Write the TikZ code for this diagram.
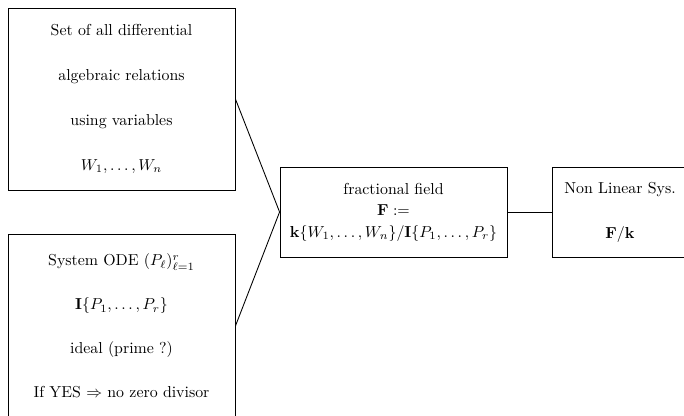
\documentclass[tikz,border=0pt]{standalone}
\usepackage{amsmath}
\begin{document}
\begin{tikzpicture}[x=0.63pt,y=-0.63pt,
  box/.style={draw,line width=0.55pt,align=center,inner sep=0pt},
  conn/.style={line width=0.55pt}]
\useasboundingbox (0,0) rectangle (684,415);
\clip (0,0) rectangle (684,415);
\node[box,minimum width=143pt,minimum height=114.7pt] (set) at (121.5,99)
  {Set of all differential\\[16.3pt] algebraic relations\\[16.3pt] using variables\\[16.3pt] $W_1,\ldots,W_n$};
\node[box,minimum width=143pt,minimum height=116pt] (ode) at (121.5,326)
  {System ODE $(P_\ell)_{\ell=1}^r$\\[15.7pt] $\mathbf{I}\{P_1,\ldots,P_r\}$\\[15.7pt] ideal (prime ?)\\[15.7pt] If YES $\Rightarrow$ no zero divisor};
\node[box,minimum width=143pt,minimum height=56.7pt] (ff) at (393.5,212)
  {fractional field\\[1.5pt] $\mathbf{F}:=$\\[1.5pt] $\mathbf{k}\{W_1,\ldots,W_n\}/\mathbf{I}\{P_1,\ldots,P_r\}$};
\node[box,minimum width=85.7pt,minimum height=56.7pt] (nls) at (620,212)
  {Non Linear Sys.\\[16.3pt] $\mathbf{F}/\mathbf{k}$};
\draw[conn] (set.east) -- (ff.west);
\draw[conn] (ode.east) -- (ff.west);
\draw[conn] (ff.east) -- (nls.west);
\end{tikzpicture}
\end{document}
